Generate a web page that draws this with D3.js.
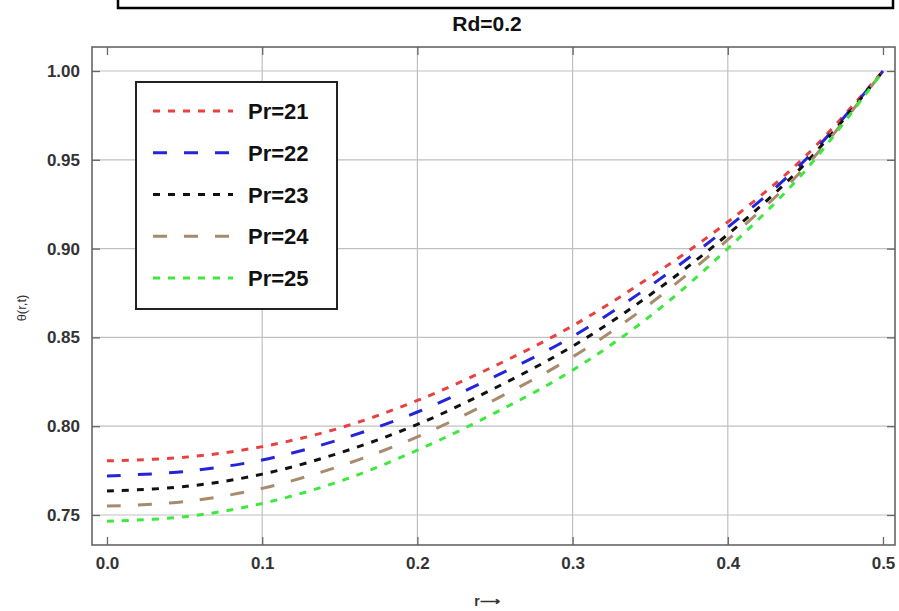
<!DOCTYPE html>
<html>
<head>
<meta charset="utf-8">
<script src="https://cdn.jsdelivr.net/npm/d3@7"></script>
<style>
  body { margin: 0; background: #fff; }
  svg { display: block; font-family: "Liberation Sans", Arial, sans-serif; }
</style>
</head>
<body>
<svg id="chart" width="899" height="611"></svg>
<script>
/* data */
var rValues = [0, 0.05, 0.1, 0.15, 0.2, 0.25, 0.3, 0.35, 0.4, 0.45, 0.5];
var pr21 = [0.7805, 0.7825, 0.7885, 0.799, 0.8145, 0.834, 0.8565, 0.884, 0.915, 0.952, 1.0];
var pr22 = [0.772, 0.7745, 0.781, 0.7925, 0.808, 0.828, 0.8505, 0.879, 0.912, 0.950, 1.0];
var pr23 = [0.7635, 0.766, 0.773, 0.785, 0.801, 0.8215, 0.845, 0.874, 0.908, 0.948, 1.0];
var pr24 = [0.755, 0.7575, 0.765, 0.7775, 0.794, 0.815, 0.839, 0.869, 0.905, 0.946, 1.0];
var pr25 = [0.7465, 0.749, 0.7565, 0.769, 0.7865, 0.8075, 0.8315, 0.862, 0.900, 0.944, 1.0];
var seriesNames = ['Pr=21', 'Pr=22', 'Pr=23', 'Pr=24', 'Pr=25'];
var xTicks = [0, 0.1, 0.2, 0.3, 0.4, 0.5];
var yTicks = [0.75, 0.80, 0.85, 0.90, 0.95, 1.00];
var titleText = 'Rd=0.2';

var seriesValues = [pr21, pr22, pr23, pr24, pr25];
var colors = ['#e8413f', '#2424d8', '#111111', '#a88a6c', '#3ee83e'];
var dashes = ['7,8', '14,17', '7,8', '14,17', '7,8'];

var svg = d3.select('#chart');

// frame box at the top (cut off from a bigger figure)
svg.append('rect')
  .attr('x', 118).attr('y', -10)
  .attr('width', 775).attr('height', 18)
  .attr('fill', 'none')
  .attr('stroke', '#000')
  .attr('stroke-width', 2.5);

var frame = {left: 92, right: 895, top: 47, bottom: 545};

var x = d3.scaleLinear().domain([0, 0.5]).range([107, 883]);
var y = d3.scaleLinear().domain([0.75, 1.0]).range([515, 71]);

// gridlines
svg.append('g')
  .selectAll('line')
  .data(xTicks.slice(1, -1))
  .enter().append('line')
  .attr('x1', function(d) { return x(d); })
  .attr('x2', function(d) { return x(d); })
  .attr('y1', frame.top).attr('y2', frame.bottom)
  .attr('stroke', '#c0c0c0').attr('stroke-width', 1.2);

svg.append('g')
  .selectAll('line')
  .data(yTicks)
  .enter().append('line')
  .attr('y1', function(d) { return y(d); })
  .attr('y2', function(d) { return y(d); })
  .attr('x1', frame.left).attr('x2', frame.right)
  .attr('stroke', '#c0c0c0').attr('stroke-width', 1.2);

// curves
var line = d3.line()
  .x(function(d) { return x(d[0]); })
  .y(function(d) { return y(d[1]); })
  .curve(d3.curveCatmullRom);

seriesValues.forEach(function(vals, i) {
  var pts = rValues.map(function(r, j) { return [r, vals[j]]; });
  svg.append('path')
    .datum(pts)
    .attr('d', line)
    .attr('fill', 'none')
    .attr('stroke', colors[i])
    .attr('stroke-width', 3)
    .attr('stroke-dasharray', dashes[i]);
});

// frame and ticks (d3 axes, ticks pointing inward)
var minorX = d3.range(0, 0.5001, 0.02);
var minorY = d3.range(0.74, 1.0101, 0.01);

function addAxis(axisFn, scale, transform, major, labels) {
  var isX = scale === x;
  var g = svg.append('g').attr('transform', transform);
  g.call(axisFn(scale).tickValues(isX ? minorX : minorY)
    .tickSize(-4).tickFormat(''));
  g.call(axisFn(scale).tickValues(major).tickSize(-8).tickPadding(12)
    .tickFormat(labels ? (isX ? d3.format('.1f') : d3.format('.2f')) : ''));
  g.selectAll('.domain').remove();
  g.selectAll('line').attr('stroke', '#666').attr('stroke-width', 1.3);
  g.selectAll('text')
    .attr('fill', '#333')
    .style('font-size', '17px')
    .style('font-weight', 'bold');
  return g;
}

addAxis(d3.axisBottom, x, 'translate(0,' + frame.bottom + ')', xTicks, true);
addAxis(d3.axisTop, x, 'translate(0,' + frame.top + ')', xTicks, false);
addAxis(d3.axisLeft, y, 'translate(' + frame.left + ',0)', yTicks, true);
addAxis(d3.axisRight, y, 'translate(' + frame.right + ',0)', yTicks, false);

svg.append('rect')
  .attr('x', frame.left).attr('y', frame.top)
  .attr('width', frame.right - frame.left)
  .attr('height', frame.bottom - frame.top)
  .attr('fill', 'none')
  .attr('stroke', '#666')
  .attr('stroke-width', 1.6);

// title and axis labels
svg.append('text')
  .attr('x', 487).attr('y', 31)
  .attr('text-anchor', 'middle')
  .style('font-size', '21px').style('font-weight', 'bold')
  .attr('fill', '#111')
  .text(titleText);

svg.append('text')
  .attr('transform', 'translate(26,308) rotate(-90)')
  .attr('text-anchor', 'middle')
  .style('font-size', '13px')
  .attr('fill', '#333')
  .text('\u03b8(r,t)');

svg.append('text')
  .attr('x', 487).attr('y', 606)
  .attr('text-anchor', 'middle')
  .style('font-size', '14px').style('font-weight', 'bold')
  .attr('fill', '#333')
  .text('r\u27f6');

// legend
var legend = svg.append('g');
legend.append('rect')
  .attr('x', 136).attr('y', 82)
  .attr('width', 201).attr('height', 227)
  .attr('fill', '#fff')
  .attr('stroke', '#222')
  .attr('stroke-width', 2);

var rowY = d3.scalePoint().domain(seriesNames).range([111, 278]);

seriesNames.forEach(function(name, i) {
  legend.append('line')
    .attr('x1', 153).attr('x2', 233)
    .attr('y1', rowY(name)).attr('y2', rowY(name))
    .attr('stroke', colors[i])
    .attr('stroke-width', 3)
    .attr('stroke-dasharray', dashes[i]);
  legend.append('text')
    .attr('x', 248).attr('y', rowY(name) + 8)
    .style('font-size', '22px').style('font-weight', 'bold')
    .attr('fill', '#111')
    .text(name);
});
</script>
</body>
</html>
